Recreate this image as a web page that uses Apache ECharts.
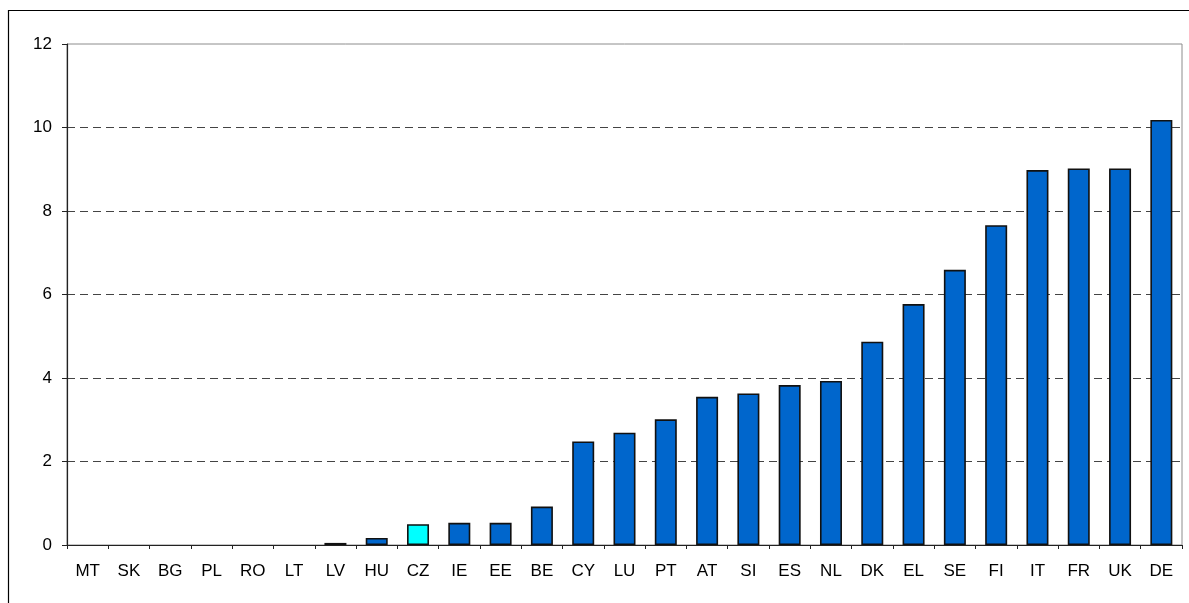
<!DOCTYPE html>
<html>
<head>
<meta charset="utf-8">
<script src="https://cdn.jsdelivr.net/npm/echarts@6/dist/echarts.min.js"></script>
<style>
  html, body { margin: 0; padding: 0; background: #fff; }
  #chart { width: 1189px; height: 603px; }
</style>
</head>
<body>
<div id="chart"></div>
<script>
const countries = ["MT", "SK", "BG", "PL", "RO", "LT", "LV", "HU", "CZ", "IE", "EE", "BE", "CY", "LU",
  "PT", "AT", "SI", "ES", "NL", "DK", "EL", "SE", "FI", "IT", "FR", "UK", "DE"];
const values = [0, 0, 0, 0, 0, 0, 0.05, 0.17, 0.5, 0.53, 0.53, 0.92, 2.48, 2.69,
  3.01, 3.55, 3.63, 3.83, 3.93, 4.87, 5.77, 6.59, 7.66, 8.98, 9.02, 9.02, 10.18];
const highlighted = "CZ";
const yTicks = [0, 2, 4, 6, 8, 10, 12];

const chart = echarts.init(document.getElementById("chart"));

// zero bars are not drawn at all in the original, so drop their outline
const barData = values.map((v, i) => ({
  value: v,
  itemStyle: {
    color: countries[i] === highlighted ? "#00FFFF" : "#0066CC",
    borderWidth: v === 0 ? 0 : 1.6,
  },
}));

chart.setOption({
  animation: false,
  textStyle: { fontFamily: "Liberation Sans, Arial, sans-serif" },
  graphic: [
    {
      type: "rect",
      shape: { x: 8.5, y: 10.5, width: 1300, height: 700 },
      style: { fill: "none", stroke: "#000", lineWidth: 1.2 },
      silent: true,
    },
  ],
  grid: {
    left: 67,
    right: 7,
    top: 44,
    bottom: 58,
    show: true,
    borderColor: "#8c8c8c",
    borderWidth: 1,
  },
  xAxis: {
    type: "category",
    data: countries,
    axisLine: { lineStyle: { color: "#222", width: 1.2 } },
    axisTick: { show: true, alignWithLabel: false, length: 4, lineStyle: { color: "#222" } },
    axisLabel: { color: "#000", fontSize: 17, margin: 18, interval: 0 },
  },
  yAxis: {
    type: "value",
    min: yTicks[0],
    max: yTicks[yTicks.length - 1],
    interval: 2,
    axisLine: { show: true, lineStyle: { color: "#222", width: 1.2 } },
    axisTick: { show: true, length: 5, lineStyle: { color: "#222" } },
    axisLabel: { color: "#000", fontSize: 17, margin: 15 },
    splitLine: {
      show: true,
      showMaxLine: false,
      lineStyle: { color: "#444", type: [8, 5], width: 1 },
    },
  },
  series: [
    {
      type: "bar",
      barWidth: 22,
      data: barData,
      itemStyle: { borderColor: "#111" },
    },
  ],
});
</script>
</body>
</html>
